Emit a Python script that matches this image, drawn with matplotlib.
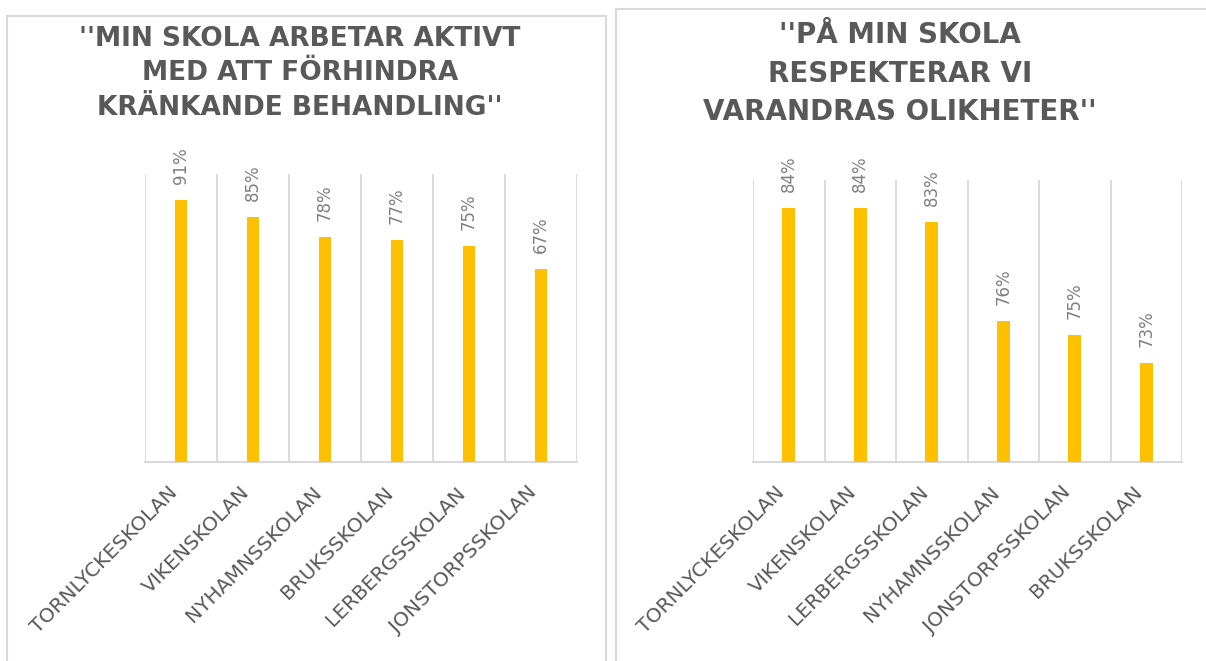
import matplotlib.pyplot as plt
import matplotlib.patches as mpatches

# left chart
left_title = "''MIN SKOLA ARBETAR AKTIVT\nMED ATT FÖRHINDRA\nKRÄNKANDE BEHANDLING''"
left_schools = ["TORNLYCKESKOLAN", "VIKENSKOLAN", "NYHAMNSSKOLAN",
                "BRUKSSKOLAN", "LERBERGSSKOLAN", "JONSTORPSSKOLAN"]
left_values = [91, 85, 78, 77, 75, 67]

# right chart
right_title = "''PÅ MIN SKOLA\nRESPEKTERAR VI\nVARANDRAS OLIKHETER''"
right_schools = ["TORNLYCKESKOLAN", "VIKENSKOLAN", "LERBERGSSKOLAN",
                 "NYHAMNSSKOLAN", "JONSTORPSSKOLAN", "BRUKSSKOLAN"]
right_values = [84, 84, 83, 76, 75, 73]

BAR = "#FFC000"
GRID = "#D9D9D9"
TEXT = "#595959"
LABEL = "#7F7F7F"
W, H = 1206, 661


def draw_bars(ax, schools, values, ylim):
    x = list(range(len(schools)))
    ax.bar(x, values, width=0.18, color=BAR, zorder=3)
    ax.set_xlim(-0.5, len(schools) - 0.5)
    ax.set_ylim(*ylim)
    for b in range(len(schools) + 1):
        ax.axvline(b - 0.5, color=GRID, lw=1.3, zorder=1)
    for xi, v in zip(x, values):
        ax.annotate(f"{v}%", (xi, v), xytext=(0, 11.5), textcoords="offset points",
                    rotation=90, ha="center", va="bottom", fontsize=12, color=LABEL)
    ax.set_xticks(x)
    ax.set_xticklabels(schools, rotation=45, ha="right", fontsize=14.5, color=TEXT)
    ax.tick_params(axis="x", length=0, pad=15)
    ax.set_yticks([])
    for s in ["left", "right", "top"]:
        ax.spines[s].set_visible(False)
    ax.spines["bottom"].set_color(GRID)
    ax.spines["bottom"].set_linewidth(1.5)
    ax.patch.set_alpha(0)


fig = plt.figure(figsize=(W / 100, H / 100), dpi=100)

# panel frames
fig.patches.append(mpatches.Rectangle((7 / W, -0.05), 599 / W, 1.05 - 16 / H,
                                      transform=fig.transFigure, fill=False,
                                      edgecolor=GRID, lw=1.5))
fig.patches.append(mpatches.Rectangle((615.5 / W, -0.05), 0.6, 1.05 - 9.5 / H,
                                      transform=fig.transFigure, fill=False,
                                      edgecolor=GRID, lw=1.5))

ax1 = fig.add_axes([145 / W, (H - 462.3) / H, 432 / W, 288.3 / H])
draw_bars(ax1, left_schools, left_values, (0, 100))

ax2 = fig.add_axes([753 / W, (H - 461.7) / H, 429 / W, 281.7 / H])
draw_bars(ax2, right_schools, right_values, (66, 86))

fig.text(300 / W, 1 - 73.5 / H, left_title, ha="center", va="center",
         multialignment="center", fontsize=19, fontweight="bold", color=TEXT,
         linespacing=1.43)
fig.text(900 / W, 1 - 73.5 / H, right_title, ha="center", va="center",
         multialignment="center", fontsize=20, fontweight="bold", color=TEXT,
         linespacing=1.49)

fig.savefig("out.png", dpi=100, facecolor="white")
